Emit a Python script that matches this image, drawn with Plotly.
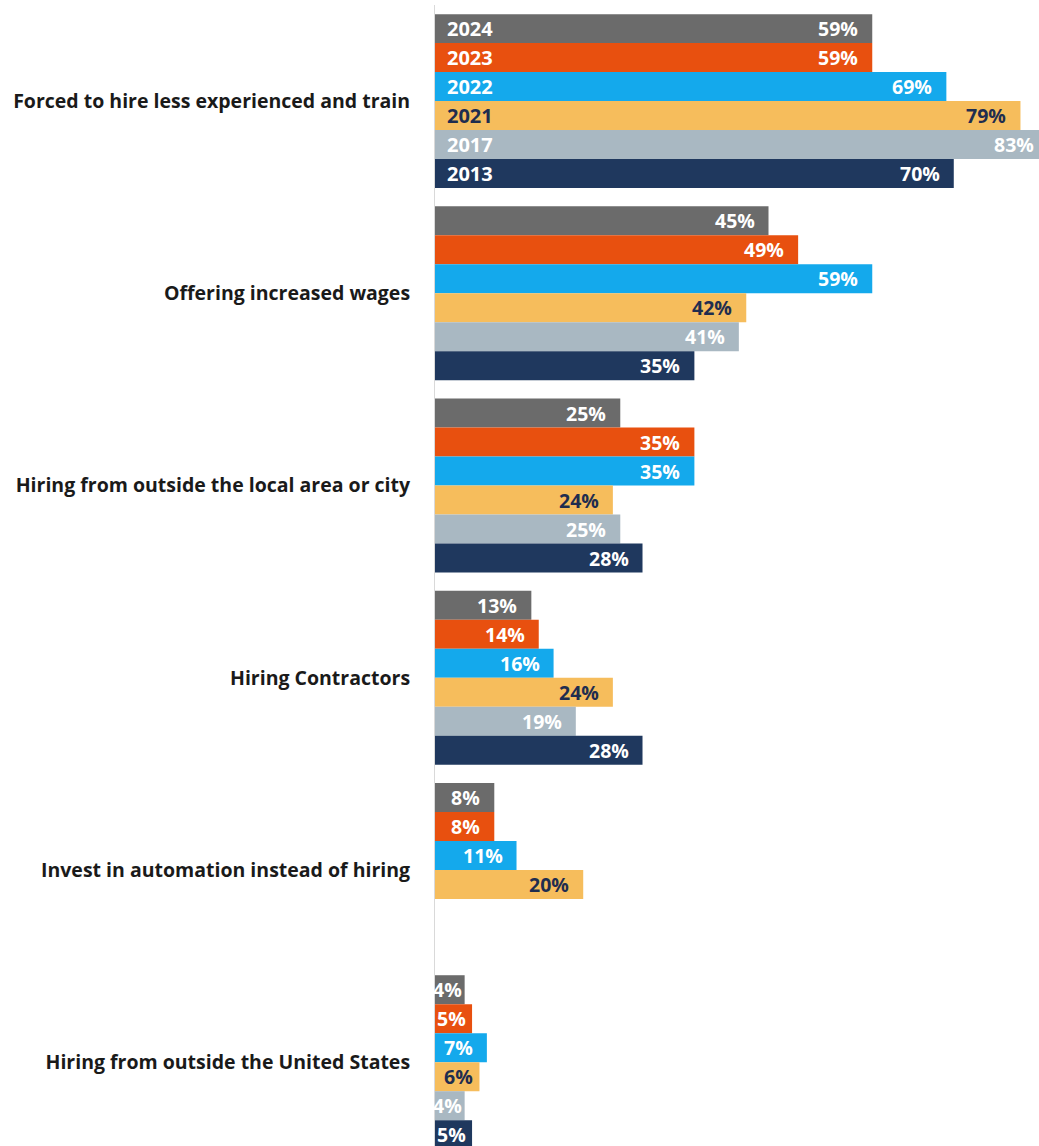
import plotly.graph_objects as go

# Survey responses: how companies cope with hiring shortages (% of respondents)
categories = [
    "Forced to hire less experienced and train",
    "Offering increased wages",
    "Hiring from outside the local area or city",
    "Hiring Contractors",
    "Invest in automation instead of hiring",
    "Hiring from outside the United States",
]
years = ["2024", "2023", "2022", "2021", "2017", "2013"]

values_2024 = [59, 45, 25, 13, 8, 4]
values_2023 = [59, 49, 35, 14, 8, 5]
values_2022 = [69, 59, 35, 16, 11, 7]
values_2021 = [79, 42, 24, 24, 20, 6]
values_2017 = [83, 41, 25, 19, None, 4]
values_2013 = [70, 35, 28, 28, None, 5]

series = [values_2024, values_2023, values_2022, values_2021, values_2017, values_2013]
bar_colors = ["#6b6b6b", "#e8500f", "#14a9ec", "#f6bd5c", "#a9b8c2", "#1f385e"]
text_colors = ["#ffffff", "#ffffff", "#ffffff", "#1f2d4f", "#ffffff", "#ffffff"]

FONT = "Open Sans"
BARGAP = 0.095
X_MAX = 81.5

fig = go.Figure()
for yr, vals, col in zip(years, series, bar_colors):
    fig.add_trace(go.Bar(
        name=yr,
        y=categories,
        x=vals,
        orientation="h",
        marker=dict(color=col, line=dict(width=0)),
        cliponaxis=False,
        hoverinfo="skip",
    ))

# Slot centre of each series inside a category group (grouped bar layout)
n = len(years)
slot = (1 - BARGAP) / n


def slot_y(cat_idx, series_idx):
    return cat_idx + (series_idx - (n - 1) / 2) * slot


def label_pad(v):
    # inner padding of a value label; short bars get less so the text still fits
    if v >= 7:
        return 12
    if v >= 5:
        return 4
    return 1


for i, (yr, vals, tcol) in enumerate(zip(years, series, text_colors)):
    # year label at the start of each bar of the first group
    fig.add_annotation(
        x=0, y=slot_y(0, i), xref="x", yref="y",
        text=f"<b>{yr}</b>", showarrow=False,
        xanchor="left", yanchor="middle", xshift=10,
        font=dict(family=FONT, size=20, color=tcol),
    )
    # value label at the inner end of each bar (kept inside the visible area)
    for c, v in enumerate(vals):
        if v is None:
            continue
        if v > X_MAX:
            x, shift = X_MAX, -3
        else:
            x, shift = v, -label_pad(v)
        fig.add_annotation(
            x=x, y=slot_y(c, i), xref="x", yref="y",
            text=f"<b>{v}%</b>", showarrow=False,
            xanchor="right", yanchor="middle", xshift=shift,
            font=dict(family=FONT, size=19.5, color=tcol),
        )

fig.update_layout(
    width=1039, height=1146,
    margin=dict(l=435, r=0, t=5, b=0),
    paper_bgcolor="white",
    plot_bgcolor="white",
    barmode="group",
    bargap=BARGAP,
    bargroupgap=0,
    showlegend=False,
    xaxis=dict(
        range=[0, X_MAX],
        showgrid=False, zeroline=False, showticklabels=False,
        showline=False, ticks="",
    ),
    yaxis=dict(
        type="category",
        categoryorder="array",
        categoryarray=categories,
        range=[5.436, -0.5],
        showgrid=False, zeroline=False,
        showline=True, linecolor="#d9d9d9", linewidth=1,
        ticks="", ticklabelstandoff=20,
        tickfont=dict(family=FONT, size=19.5, color="#1a1a1a"),
        tickprefix="<b>", ticksuffix="</b>",
    ),
)

fig.write_html("out.html")
